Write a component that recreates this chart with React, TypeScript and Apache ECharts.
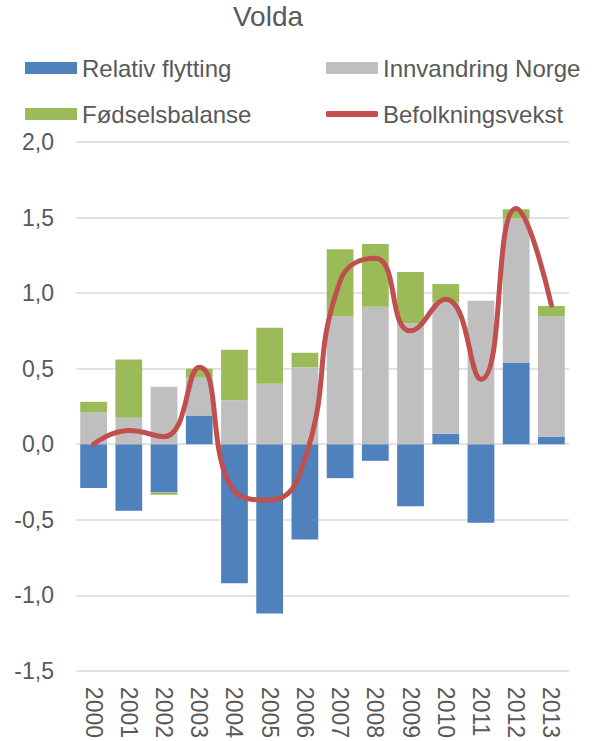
import React, { useEffect, useRef } from "react";
import * as echarts from "echarts";

const years = ["2000","2001","2002","2003","2004","2005","2006","2007","2008","2009","2010","2011","2012","2013"];
const relativFlytting = [-0.29,-0.44,-0.32,0.19,-0.92,-1.12,-0.63,-0.225,-0.11,-0.41,0.07,-0.52,0.54,0.05];
const innvandringNorge = [0.21,0.175,0.38,0.25,0.29,0.40,0.51,0.845,0.91,0.80,0.87,0.95,0.955,0.795];
const fodselsbalanse = [0.07,0.385,-0.015,0.06,0.335,0.37,0.095,0.445,0.415,0.34,0.12,0,0.06,0.07];
const befolkningsvekst = [0.0,0.09,0.05,0.51,-0.31,-0.37,-0.1,1.08,1.23,0.75,0.96,0.43,1.56,0.92];

const FONT = "Liberation Sans, Arial, sans-serif";
const TXT = "#595959";

export default function App() {
  const ref = useRef<HTMLDivElement>(null);
  useEffect(() => {
    const chart = echarts.init(ref.current!, null, { renderer: "svg" });
    const legendText = { fontFamily: FONT, fontSize: 24, color: TXT };
    const lg = { itemWidth: 52, itemHeight: 12, icon: "rect", padding: 0, itemGap: 6, textStyle: legendText };
    chart.setOption({
      animation: false,
      title: {
        text: "Volda",
        left: 268,
        textAlign: "center",
        top: 2,
        padding: 0,
        textStyle: { fontFamily: FONT, fontSize: 28, fontWeight: "normal", color: TXT },
      },
      legend: [
        { ...lg, data: ["Relativ flytting"], left: 25, top: 56 },
        { ...lg, data: ["Innvandring Norge"], left: 326, top: 56 },
        { ...lg, data: ["Fødselsbalanse"], left: 25, top: 102 },
        { ...lg, data: ["Befolkningsvekst"], left: 326, top: 102, itemHeight: 6, icon: "roundRect" },
      ],
      grid: { left: 76, right: 23, top: 142, bottom: 67 },
      xAxis: {
        type: "category",
        data: years,
        axisLine: { show: false },
        axisTick: { show: false },
        axisLabel: { rotate: -90, margin: 16, fontFamily: FONT, fontSize: 23, color: TXT },
      },
      yAxis: {
        type: "value",
        min: -1.5,
        max: 2.0,
        interval: 0.5,
        axisLine: { show: false },
        axisTick: { show: false },
        splitLine: { lineStyle: { color: "#d9d9d9", width: 1.5 } },
        axisLabel: {
          margin: 22,
          fontFamily: FONT,
          fontSize: 23,
          color: TXT,
          formatter: (v: number) => v.toFixed(1).replace(".", ","),
        },
      },
      series: [
        { name: "Relativ flytting", type: "bar", stack: "s", data: relativFlytting, barWidth: "76%", itemStyle: { color: "#4f81bd" } },
        { name: "Innvandring Norge", type: "bar", stack: "s", data: innvandringNorge, barWidth: "76%", itemStyle: { color: "#bfbfbf" } },
        { name: "Fødselsbalanse", type: "bar", stack: "s", data: fodselsbalanse, barWidth: "76%", itemStyle: { color: "#9bbb59" } },
        {
          name: "Befolkningsvekst",
          type: "line",
          data: befolkningsvekst,
          smooth: 0.5,
          showSymbol: false,
          symbol: "none",
          lineStyle: { color: "#c0504d", width: 5, cap: "round" },
          itemStyle: { color: "#c0504d" },
          z: 5,
        },
      ],
    });
    return () => chart.dispose();
  }, []);
  return <div ref={ref} style={{ position: "absolute", left: 0, top: 0, width: 592, height: 741 }} />;
}
